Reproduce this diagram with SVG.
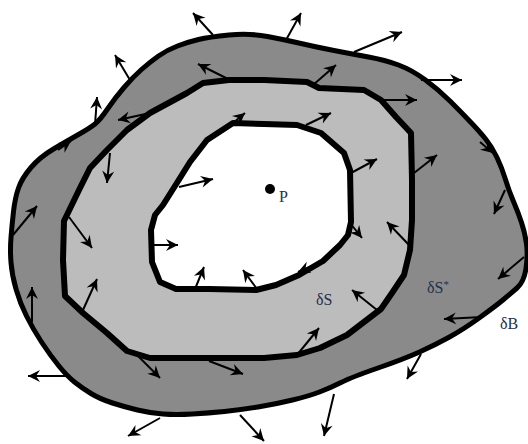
<svg xmlns="http://www.w3.org/2000/svg" width="528" height="444" viewBox="0 0 528 444">
<style>
.reg{stroke:#000;stroke-linejoin:round;stroke-linecap:round}
.outer{fill:#8a8a8a;stroke-width:5}
.mid{fill:#bcbcbc;stroke-width:6}
.inner{fill:#fff;stroke-width:6}
.arr line{stroke:#000;stroke-width:2}
.lbl{font-family:"Liberation Serif","DejaVu Serif",serif;font-size:16px;fill:#23304c}
.sup{font-size:11px}
</style>
<defs>
<marker id="ah" viewBox="-13 -7 14 14" refX="0" refY="0" markerWidth="14" markerHeight="14" markerUnits="userSpaceOnUse" orient="auto">
<path d="M0,0 L-12,-6 L-8,0 L-12,6 Z" fill="#000"/>
</marker>
</defs>
<rect width="528" height="444" fill="#fff"/>
<g id="regionB">
<path class="reg outer" d="M198.5,39.5 Q209,37 229,35 Q249,33 267.5,36.5 Q286,40 301,43.5 Q316,47 334,50.5 Q352,54 368.5,57 Q385,60 398.5,65 Q412,70 425.5,80 Q439,90 450.5,101.5 Q462,113 471,122.5 Q480,132 486,139.5 Q492,147 497,157.5 Q502,168 505.5,179.5 Q509,191 513.5,201.5 Q518,212 521.5,222.5 Q525,233 526.5,244 Q528,255 526,268.5 Q524,282 517,288 Q510,294 503.5,299.5 Q497,305 480.5,317 Q464,329 449.5,337 Q435,345 419.5,352 Q404,359 378,368 Q352,377 341,382.5 Q330,388 319.5,392 Q309,396 292.5,400 Q276,404 258,407 Q240,410 224.5,411.5 Q209,413 192.5,414 Q176,415 163,414 Q150,413 137.5,410 Q125,407 112.5,403 Q100,399 91,393.5 Q82,388 74.5,382 Q67,376 58.5,365.5 Q50,355 41.5,342 Q33,329 26.5,316 Q20,303 16,289 Q12,275 11,262.5 Q10,250 11,237.5 Q12,225 13.5,211.5 Q15,198 18.5,188 Q22,178 31,167.5 Q40,157 53.5,149 Q67,141 78.5,134.5 Q90,128 95,124 Q100,120 107.5,109 Q115,98 124,87.5 Q133,77 141.5,69.5 Q150,62 158.5,56 Q167,50 177.5,46 Q188,42 198.5,39.5 Z"/>
</g>
<g id="regionSstar">
<polygon class="reg mid" points="229,80 264,80 307,82 319,88 364,90 381,100 396,117 411,133 412,180 412,220 410,250 404,275 392,293 381,309 347,335 320,348 297,355 264,358 176,358 150,358 127,351 107,333 83,313 65,296 63,260 64,221 80,188 90,168 107,150 127,130 150,113 187,93 203,83"/>
</g>
<g id="regionS">
<polygon class="reg inner" points="233,123 264,124 297,125 321,133 344,153 350,170 351,222 348,235 340,245 323,261 299,275 276,285 256,290 209,289 176,289 160,282 152,262 151,230 155,215 163,205 175,186 190,162 207,140"/>
</g>
<g id="pointP">
<circle cx="270" cy="189" r="5" fill="#000"/>
<text class="lbl" x="279" y="202">P</text>
</g>
<g id="labels">
<text class="lbl" x="316" y="305">δS</text>
<text class="lbl" x="427" y="293">δS<tspan class="sup" dy="-5">*</tspan></text>
<text class="lbl" x="500" y="329">δB</text>
</g>
<g id="connectors" class="arr">
<line x1="130" y1="80" x2="115" y2="55" marker-end="url(#ah)"/>
<line x1="95" y1="125" x2="97" y2="97" marker-end="url(#ah)"/>
<line x1="150" y1="113" x2="118" y2="120" marker-end="url(#ah)"/>
<line x1="213" y1="35" x2="193" y2="13" marker-end="url(#ah)"/>
<line x1="228" y1="79" x2="198" y2="64" marker-end="url(#ah)"/>
<line x1="58" y1="150" x2="71" y2="141" marker-end="url(#ah)"/>
<line x1="110" y1="153" x2="107" y2="183" marker-end="url(#ah)"/>
<line x1="233" y1="123" x2="245" y2="113" marker-end="url(#ah)"/>
<line x1="179" y1="187" x2="213" y2="179" marker-end="url(#ah)"/>
<line x1="13" y1="235" x2="37" y2="206" marker-end="url(#ah)"/>
<line x1="286" y1="40" x2="301" y2="13" marker-end="url(#ah)"/>
<line x1="313" y1="85" x2="336" y2="65" marker-end="url(#ah)"/>
<line x1="306" y1="125" x2="331" y2="113" marker-end="url(#ah)"/>
<line x1="354" y1="52" x2="402" y2="32" marker-end="url(#ah)"/>
<line x1="421" y1="80" x2="462" y2="80" marker-end="url(#ah)"/>
<line x1="382" y1="100" x2="417" y2="100" marker-end="url(#ah)"/>
<line x1="480" y1="142" x2="493" y2="153" marker-end="url(#ah)"/>
<line x1="351" y1="173" x2="377" y2="159" marker-end="url(#ah)"/>
<line x1="414" y1="173" x2="437" y2="155" marker-end="url(#ah)"/>
<line x1="505" y1="190" x2="494" y2="214" marker-end="url(#ah)"/>
<line x1="409" y1="245" x2="387" y2="222" marker-end="url(#ah)"/>
<line x1="350" y1="223" x2="362" y2="238" marker-end="url(#ah)"/>
<line x1="524" y1="257" x2="498" y2="279" marker-end="url(#ah)"/>
<line x1="322" y1="262" x2="298" y2="272" marker-end="url(#ah)"/>
<line x1="377" y1="310" x2="352" y2="290" marker-end="url(#ah)"/>
<line x1="297" y1="355" x2="319" y2="328" marker-end="url(#ah)"/>
<line x1="482" y1="317" x2="444" y2="319" marker-end="url(#ah)"/>
<line x1="421" y1="354" x2="407" y2="379" marker-end="url(#ah)"/>
<line x1="334" y1="394" x2="324" y2="436" marker-end="url(#ah)"/>
<line x1="209" y1="361" x2="243" y2="374" marker-end="url(#ah)"/>
<line x1="240" y1="415" x2="264" y2="441" marker-end="url(#ah)"/>
<line x1="32" y1="322" x2="32" y2="287" marker-end="url(#ah)"/>
<line x1="67" y1="376" x2="28" y2="376" marker-end="url(#ah)"/>
<line x1="138" y1="356" x2="160" y2="378" marker-end="url(#ah)"/>
<line x1="160" y1="418" x2="128" y2="436" marker-end="url(#ah)"/>
<line x1="69" y1="217" x2="92" y2="248" marker-end="url(#ah)"/>
<line x1="83" y1="310" x2="97" y2="279" marker-end="url(#ah)"/>
<line x1="153" y1="245" x2="178" y2="245" marker-end="url(#ah)"/>
<line x1="195" y1="289" x2="204" y2="267" marker-end="url(#ah)"/>
<line x1="257" y1="289" x2="243" y2="270" marker-end="url(#ah)"/>
</g>
</svg>
